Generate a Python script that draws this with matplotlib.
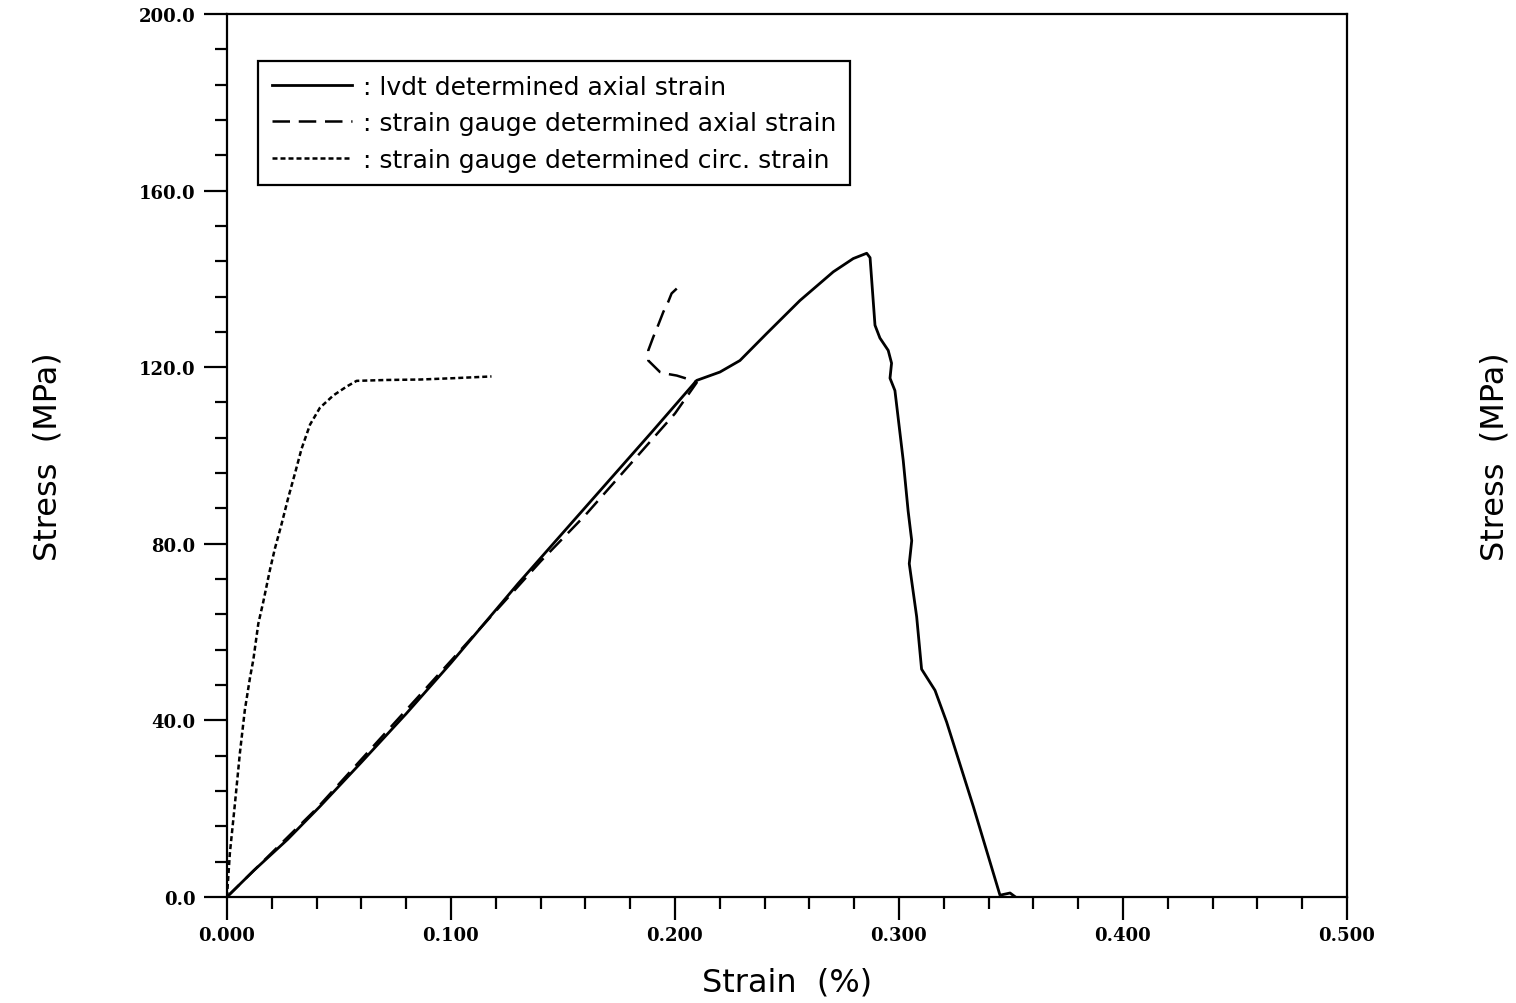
import matplotlib.pyplot as plt
from matplotlib.ticker import MultipleLocator, FormatStrFormatter

# lvdt determined axial strain
lvdt_strain = [0.0, 0.012, 0.027, 0.0415, 0.06, 0.08, 0.10, 0.13, 0.15, 0.17, 0.19,
               0.2097, 0.2201, 0.229, 0.2409, 0.2558, 0.2707, 0.2796, 0.2856, 0.2871,
               0.2893, 0.2915, 0.2952, 0.2967, 0.296, 0.2982, 0.3019, 0.3041, 0.3057,
               0.3046, 0.3079, 0.3101, 0.3161, 0.3213, 0.3332, 0.3451, 0.3496, 0.352]
lvdt_stress = [0.0, 6.0, 13.0, 20.5, 30.5, 41.5, 53.0, 71.0, 82.5, 94.0, 105.5,
               117.0, 118.9, 121.5, 127.6, 135.1, 141.6, 144.6, 145.8, 144.8,
               129.5, 126.6, 123.8, 120.9, 117.5, 114.7, 98.9, 87.4, 80.7,
               75.5, 63.5, 51.6, 46.8, 39.6, 20.5, 0.4, 0.9, 0.0]

# strain gauge determined axial strain
sg_axial_strain = [0.0, 0.04, 0.10, 0.14, 0.16, 0.18, 0.20, 0.2097, 0.2059, 0.2008,
                   0.1963, 0.1933, 0.1903, 0.1881, 0.1881, 0.1903, 0.1925, 0.1948,
                   0.197, 0.1985, 0.2008]
sg_axial_stress = [0.0, 20.0, 53.5, 76.0, 86.5, 98.0, 109.5, 116.5, 117.3, 118.1,
                   118.5, 118.9, 120.4, 121.5, 123.8, 126.8, 129.5, 132.5,
                   134.8, 136.7, 137.8]

# strain gauge determined circumferential strain
sg_circ_strain = [0.0, 0.0013, 0.0036, 0.0058, 0.008, 0.0103, 0.0118, 0.014, 0.0162,
                  0.0192, 0.0214, 0.0244, 0.0274, 0.0304, 0.0333, 0.0371, 0.0415,
                  0.0475, 0.0534, 0.0579, 0.0713, 0.0862, 0.101, 0.1181]
sg_circ_stress = [0.0, 9.9, 21.3, 32.7, 42.4, 49.7, 53.8, 61.9, 66.8,
                  74.1, 78.9, 84.5, 90.5, 96.0, 101.5, 107.0, 110.8,
                  113.6, 115.6, 116.9, 117.1, 117.2, 117.5, 117.9]

labels = [": lvdt determined axial strain",
          ": strain gauge determined axial strain",
          ": strain gauge determined circ. strain"]

fig = plt.figure(figsize=(15.16, 10.04), dpi=100)
ax = fig.add_axes([0.1497, 0.1056, 0.7388, 0.8795])

ax.plot(lvdt_strain, lvdt_stress, color="black", lw=2.0, label=labels[0])
ax.plot(sg_axial_strain, sg_axial_stress, color="black", lw=1.8,
        dashes=(7, 3.5), label=labels[1])
ax.plot(sg_circ_strain, sg_circ_stress, color="black", lw=1.8,
        dashes=(2, 1.2), label=labels[2])

ax.set_xlim(0, 0.5)
ax.set_ylim(0, 200)
ax.xaxis.set_major_locator(MultipleLocator(0.1))
ax.xaxis.set_minor_locator(MultipleLocator(0.02))
ax.yaxis.set_major_locator(MultipleLocator(40))
ax.yaxis.set_minor_locator(MultipleLocator(8))
ax.xaxis.set_major_formatter(FormatStrFormatter("%.3f"))
ax.yaxis.set_major_formatter(FormatStrFormatter("%.1f"))

ax.tick_params(which="both", direction="out", width=1.6, top=False, right=False)
ax.tick_params(which="major", length=16.5)
ax.tick_params(which="minor", length=8.6)
ax.tick_params(axis="x", which="major", pad=4.5)
ax.tick_params(axis="y", which="major", pad=6)
for lab in ax.get_xticklabels() + ax.get_yticklabels():
    lab.set_fontfamily("DejaVu Serif")
    lab.set_fontweight("bold")
    lab.set_fontsize(13)
for sp in ax.spines.values():
    sp.set_linewidth(1.6)

ax.set_xlabel("Strain  (%)", fontsize=23)
ax.xaxis.set_label_coords(0.5, -0.096)
ax.xaxis.label.set_va("center")
ax.set_ylabel("Stress  (MPa)", fontsize=23)
ax.yaxis.set_label_coords(-0.16, 0.5)
ax.yaxis.label.set_va("center")
ax.text(1.132, 0.5, "Stress  (MPa)", fontsize=23, rotation=90,
        ha="center", va="center", transform=ax.transAxes)

leg = ax.legend(loc="upper left", bbox_to_anchor=(0.0277, 0.9468), borderaxespad=0,
                fontsize=18, handlelength=3.2, handletextpad=0.45, labelspacing=0.5,
                fancybox=False, framealpha=1, edgecolor="black", borderpad=0.55)
leg.get_frame().set_linewidth(1.6)

plt.savefig("out.png")
